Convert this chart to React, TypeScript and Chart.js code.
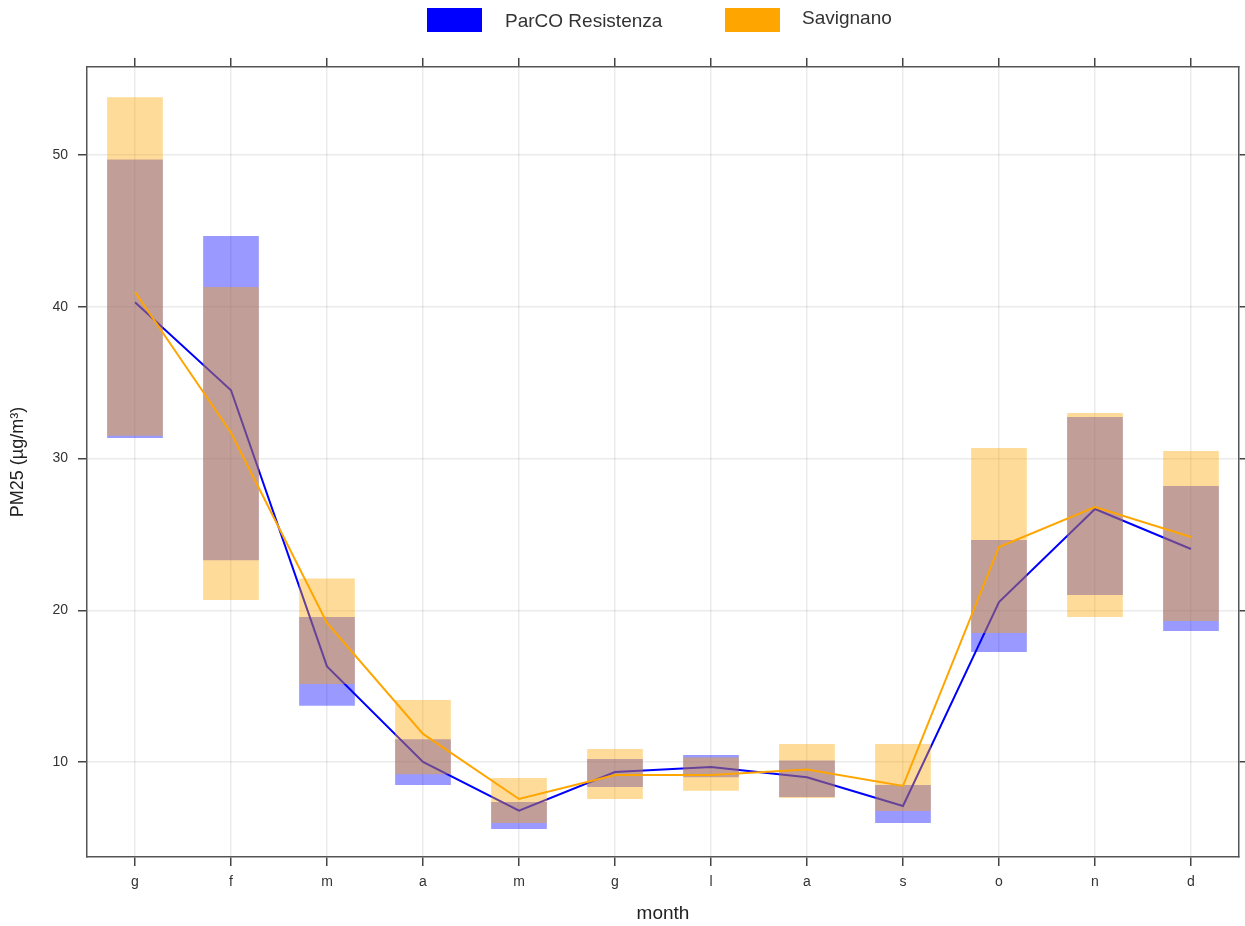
import { useEffect, useRef } from "react";
import { Chart, registerables } from "chart.js";

Chart.register(...registerables);

const months = ["g", "f", "m", "a", "m", "g", "l", "a", "s", "o", "n", "d"];
const yTicks = [10, 20, 30, 40, 50];

const parcoName = "ParCO Resistenza";
const parcoMean = [40.3, 34.5, 16.3, 10.0, 6.8, 9.34, 9.67, 9.0, 7.1, 20.54, 26.67, 24.04];
const parcoLow = [31.35, 23.3, 13.7, 8.48, 5.58, 8.35, 9.0, 7.7, 5.98, 17.25, 21.0, 18.63];
const parcoHigh = [49.7, 44.66, 19.55, 11.5, 7.37, 10.2, 10.46, 10.1, 8.48, 24.63, 32.73, 28.19];

const savName = "Savignano";
const savMean = [40.97, 31.7, 19.16, 11.85, 7.56, 9.14, 9.14, 9.5, 8.42, 24.17, 26.8, 24.83];
const savLow = [31.5, 20.68, 15.14, 9.2, 5.98, 7.56, 8.1, 7.63, 6.77, 18.5, 19.56, 19.3];
const savHigh = [53.8, 41.3, 22.1, 14.09, 8.95, 10.86, 10.3, 11.19, 11.19, 30.69, 33.0, 30.5];

const yMin = 3.74;
const yMax = 55.8;

const FONT = "'Liberation Sans', Arial, Helvetica, sans-serif";
const BLUE = "#0000FF";
const ORANGE = "#FFA500";
const BLUE_T = "rgba(0,0,255,0.4)";
const ORANGE_T = "rgba(255,165,0,0.4)";

const legendPlugin = {
  id: "topLegend",
  afterDraw(chart: any) {
    const ctx = chart.ctx;
    const cx = chart.width / 2;
    const items = [
      { label: parcoName, color: BLUE, boxX: cx - 195.5, textX: cx - 117.5, base: 27 },
      { label: savName, color: ORANGE, boxX: cx + 102.5, textX: cx + 179.5, base: 24 },
    ];
    ctx.save();
    ctx.font = `19px ${FONT}`;
    ctx.textBaseline = "alphabetic";
    ctx.textAlign = "left";
    for (const it of items) {
      ctx.fillStyle = it.color;
      ctx.fillRect(it.boxX, 8, 55, 24);
      ctx.fillStyle = "#333";
      ctx.fillText(it.label, it.textX, it.base);
    }
    ctx.restore();
  },
};

export default function App() {
  const ref = useRef<HTMLCanvasElement | null>(null);

  useEffect(() => {
    document.body.style.margin = "0";
    if (!ref.current) return;
    const setTicks = (scale: any) => {
      scale.ticks = yTicks.map((v) => ({ value: v }));
    };
    const gridCommon = {
      color: "rgba(0,0,0,0.08)",
      lineWidth: 1.5,
      tickColor: "#444",
      tickWidth: 1.5,
      tickLength: 9,
      offset: false,
    };
    const borderCommon = { color: "#555", width: 1.5 };
    const chart = new Chart(ref.current, {
      data: {
        labels: months,
        datasets: [
          {
            type: "bar",
            label: parcoName + " range",
            data: parcoLow.map((l, i) => [l, parcoHigh[i]]),
            backgroundColor: BLUE_T,
            borderWidth: 0,
            grouped: false,
            categoryPercentage: 1,
            barPercentage: 0.58,
            order: 4,
          } as any,
          {
            type: "line",
            label: parcoName,
            data: parcoMean,
            borderColor: BLUE,
            backgroundColor: BLUE,
            borderWidth: 2,
            pointRadius: 0,
            tension: 0,
            order: 3,
          },
          {
            type: "bar",
            label: savName + " range",
            data: savLow.map((l, i) => [l, savHigh[i]]),
            backgroundColor: ORANGE_T,
            borderWidth: 0,
            grouped: false,
            categoryPercentage: 1,
            barPercentage: 0.58,
            order: 2,
          } as any,
          {
            type: "line",
            label: savName,
            data: savMean,
            borderColor: ORANGE,
            backgroundColor: ORANGE,
            borderWidth: 2,
            pointRadius: 0,
            tension: 0,
            order: 1,
          },
        ],
      },
      options: {
        responsive: false,
        animation: false,
        layout: { padding: 0 },
        plugins: {
          legend: { display: false },
          tooltip: { enabled: false },
        },
        scales: {
          x: {
            type: "category",
            position: "bottom",
            offset: true,
            grid: { ...gridCommon },
            border: borderCommon,
            ticks: {
              font: { family: FONT, size: 14 },
              color: "#333",
              padding: 8,
              maxRotation: 0,
              autoSkip: false,
            },
            title: {
              display: true,
              text: "month",
              font: { family: FONT, size: 19 },
              color: "#222",
              padding: { top: 0, bottom: 1 },
            },
            afterFit: (s: any) => {
              s.height = 69;
            },
          },
          x2: {
            type: "category",
            position: "top",
            offset: true,
            labels: months,
            grid: { ...gridCommon, drawOnChartArea: false },
            border: borderCommon,
            ticks: { display: false, autoSkip: false },
            afterFit: (s: any) => {
              s.height = 67;
            },
          },
          y: {
            type: "linear",
            position: "left",
            min: yMin,
            max: yMax,
            afterBuildTicks: setTicks,
            grid: { ...gridCommon },
            border: borderCommon,
            ticks: {
              font: { family: FONT, size: 14 },
              color: "#333",
              padding: 10,
            },
            title: {
              display: true,
              text: "PM25 (µg/m³)",
              font: { family: FONT, size: 18 },
              color: "#222",
              padding: { top: 7, bottom: 0 },
            },
            afterFit: (s: any) => {
              s.width = 87;
            },
          },
          y2: {
            type: "linear",
            position: "right",
            min: yMin,
            max: yMax,
            afterBuildTicks: setTicks,
            grid: { ...gridCommon, drawOnChartArea: false },
            border: borderCommon,
            ticks: { display: false },
            afterFit: (s: any) => {
              s.width = 6;
            },
          },
        },
      },
      plugins: [legendPlugin],
    } as any);
    return () => chart.destroy();
  }, []);

  return (
    <div style={{ width: 1245, height: 926, background: "#fff" }}>
      <canvas ref={ref} width={1245} height={926} style={{ display: "block" }} />
    </div>
  );
}
